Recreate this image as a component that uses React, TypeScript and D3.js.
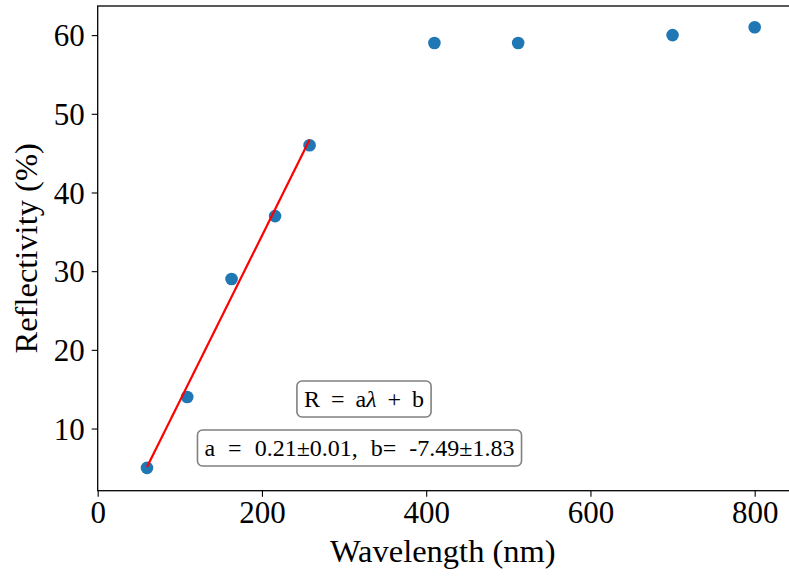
import React, { useEffect, useRef } from "react";
import * as d3 from "d3";

// measured points
const wavelengths = [60, 109, 163, 216, 258, 410, 512, 700, 800];
const reflectivity = [5, 14, 29, 37, 46, 59, 59, 60, 61];
// linear fit over the first five points
const fitCount = 5;
const fitA = 0.21;
const fitB = -7.49;
const xTicks = [0, 200, 400, 600, 800];
const yTicks = [10, 20, 30, 40, 50, 60];

export default function App() {
  const ref = useRef<SVGSVGElement | null>(null);

  useEffect(() => {
    const svg = d3.select(ref.current);
    svg.selectAll("*").remove();
    const font = "Liberation Serif, DejaVu Serif, serif";

    const left = 97.7;
    const right = 790;
    const top = 6;
    const bottom = 490.7;

    const x = d3.scaleLinear().domain([0, 843]).range([left, right]);
    const y = d3.scaleLinear().domain([2.1, 63.7]).range([bottom, top]);

    const data = wavelengths.map((w, i) => ({ w, r: reflectivity[i] }));

    // fit line
    const fitX = d3.extent(wavelengths.slice(0, fitCount)) as [number, number];
    const line = d3
      .line<number>()
      .x((d) => x(d))
      .y((d) => y(fitA * d + fitB));

    svg
      .append("g")
      .selectAll("circle")
      .data(data)
      .enter()
      .append("circle")
      .attr("cx", (d) => x(d.w))
      .attr("cy", (d) => y(d.r))
      .attr("r", 6.3)
      .style("fill", "#1f77b4");

    svg
      .append("path")
      .datum(fitX)
      .attr("d", line)
      .style("fill", "none")
      .style("stroke", "#ff0000")
      .style("stroke-width", 2.2);

    // annotation boxes
    const boxes = [
      { cx: 364, base: 407, ws: 5, parts: [["R = a", "normal"], ["λ", "italic"], [" + b", "normal"]] },
      { cx: 359.5, base: 456, ws: 7, parts: [["a = 0.21±0.01, b= -7.49±1.83", "normal"]] },
    ];
    boxes.forEach((b) => {
      const g = svg.append("g");
      const rect = g.append("rect");
      const t = g
        .append("text")
        .attr("x", b.cx)
        .attr("y", b.base)
        .attr("text-anchor", "middle")
        .attr("font-family", font)
        .attr("font-size", 24)
        .attr("word-spacing", b.ws)
        .attr("fill", "#000");
      b.parts.forEach((p) => {
        t.append("tspan").attr("font-style", p[1]).text(p[0]);
      });
      const bb = (t.node() as SVGTextElement).getBBox();
      const padX = 7;
      const h = 36;
      rect
        .attr("x", bb.x - padX)
        .attr("y", bb.y + bb.height / 2 - h / 2)
        .attr("width", bb.width + padX * 2)
        .attr("height", h)
        .attr("rx", 5)
        .style("fill", "#fff")
        .style("stroke", "#808080")
        .style("stroke-width", 1.6);
    });

    // frame
    svg
      .append("rect")
      .attr("x", left)
      .attr("y", top)
      .attr("width", right - left)
      .attr("height", bottom - top)
      .style("fill", "none")
      .style("stroke", "#000")
      .style("stroke-width", 1.3);

    const xAxis = svg
      .append("g")
      .attr("transform", `translate(0,${bottom})`)
      .call(d3.axisBottom(x).tickValues(xTicks).tickSize(6).tickPadding(4).tickFormat(d3.format("d")));
    const yAxis = svg
      .append("g")
      .attr("transform", `translate(${left},0)`)
      .call(d3.axisLeft(y).tickValues(yTicks).tickSize(6).tickPadding(7).tickFormat(d3.format("d")));

    [xAxis, yAxis].forEach((a) => {
      a.attr("font-family", font).attr("font-size", 31);
      a.select(".domain").remove();
      a.selectAll("line").style("stroke", "#000").style("stroke-width", 1.1);
      a.selectAll("text").attr("fill", "#000");
    });
    xAxis.selectAll("text").attr("dy", "0.71em");
    yAxis.selectAll("text").attr("dy", "0.34em");

    svg
      .append("text")
      .attr("x", (left + right) / 2 - 1)
      .attr("y", 562)
      .attr("text-anchor", "middle")
      .attr("font-family", font)
      .attr("font-size", 32.5)
      .text("Wavelength (nm)");

    svg
      .append("text")
      .attr("transform", `translate(37,${(top + bottom) / 2}) rotate(-90)`)
      .attr("text-anchor", "middle")
      .attr("font-family", font)
      .attr("font-size", 32.5)
      .text("Reflectivity (%)");
  }, []);

  return (
    <svg
      ref={ref}
      width={789}
      height={577}
      style={{ position: "absolute", left: 0, top: 0, background: "#fff" }}
    />
  );
}
